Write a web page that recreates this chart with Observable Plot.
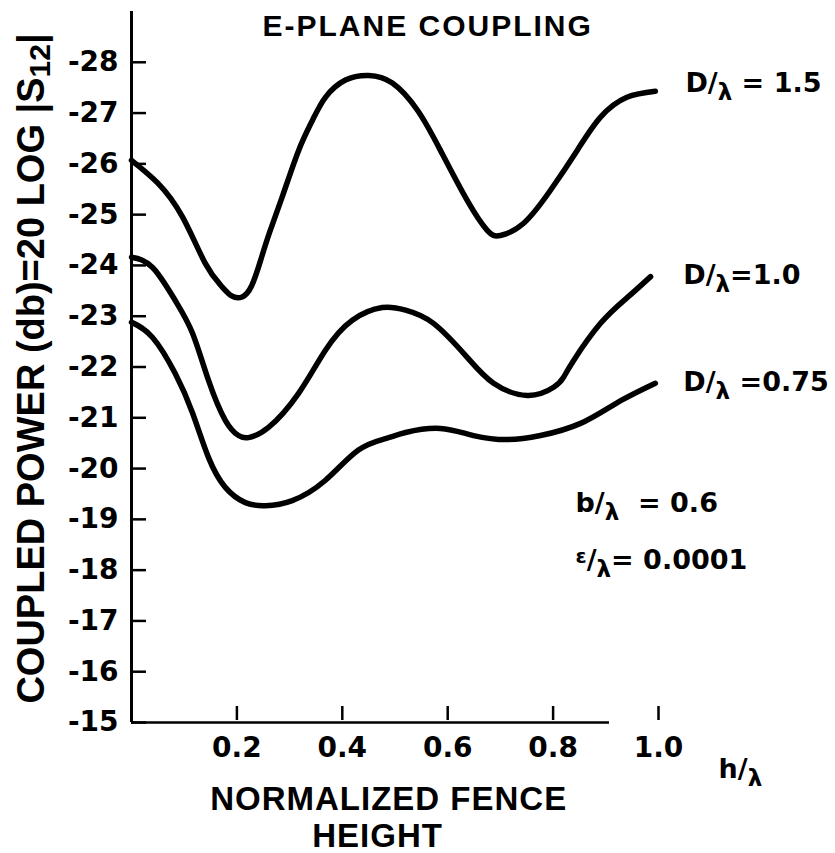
<!DOCTYPE html>
<html><head><meta charset="utf-8">
<script src="https://cdn.jsdelivr.net/npm/d3@7"></script>
<script src="https://cdn.jsdelivr.net/npm/@observablehq/plot@0.6"></script>
<style>body{margin:0;background:#fff} #chart svg{display:block}</style>
</head><body><div id="chart"></div>
<script>
// Tick values
const yTicks = [-28, -27, -26, -25, -24, -23, -22, -21, -20, -19, -18, -17, -16, -15];
const xTicks = [0.2, 0.4, 0.6, 0.8, 1.0];

// D/λ = 1.5
const hD15 = [0, 0.05, 0.097, 0.14, 0.17, 0.19, 0.21, 0.228, 0.245, 0.262, 0.287, 0.317, 0.343, 0.368, 0.406, 0.45, 0.495, 0.543, 0.586, 0.637, 0.675, 0.70, 0.744, 0.795, 0.846, 0.89, 0.94, 0.994];
const vD15 = [-26.07, -25.62, -24.95, -24.04, -23.6, -23.4, -23.38, -23.6, -24.1, -24.65, -25.38, -26.26, -26.85, -27.31, -27.65, -27.74, -27.59, -27.05, -26.27, -25.28, -24.69, -24.59, -24.83, -25.48, -26.27, -26.92, -27.31, -27.43];
// D/λ = 1.0
const hD10 = [0, 0.04, 0.083, 0.116, 0.146, 0.178, 0.203, 0.222, 0.26, 0.317, 0.368, 0.419, 0.476, 0.52, 0.573, 0.637, 0.687, 0.751, 0.801, 0.82, 0.839, 0.89, 0.941, 0.985];
const vD10 = [-24.16, -23.96, -23.31, -22.66, -21.74, -20.95, -20.65, -20.61, -20.81, -21.48, -22.33, -22.92, -23.17, -23.12, -22.86, -22.19, -21.68, -21.44, -21.6, -21.8, -22.13, -22.86, -23.37, -23.78];
// D/λ = 0.75
const hD075 = [0, 0.04, 0.083, 0.116, 0.146, 0.178, 0.216, 0.254, 0.305, 0.368, 0.43, 0.482, 0.52, 0.586, 0.649, 0.713, 0.776, 0.852, 0.922, 0.994];
const vD075 = [-22.88, -22.58, -21.87, -21.09, -20.22, -19.63, -19.33, -19.27, -19.37, -19.77, -20.36, -20.59, -20.71, -20.79, -20.65, -20.57, -20.65, -20.89, -21.3, -21.68];

const seriesNames = ["1.5", "1.0", "0.75"];
const seriesH = [hD15, hD10, hD075];
const seriesV = [vD15, vD10, vD075];

const rows = seriesNames.flatMap((name, k) => seriesH[k].map((h, i) => ({D: name, h, v: seriesV[k][i]})));

const ann = {fontFamily: "DejaVu Sans", fontWeight: "bold", fontSize: 27, textAnchor: "start", fill: "black"};
const ttl = {fontFamily: "Liberation Sans", fontWeight: "bold", fill: "black"};

const chart = Plot.plot({
  width: 835, height: 853,
  marginLeft: 131, marginRight: 177, marginTop: 11, marginBottom: 131,
  x: {domain: [0, 1]},
  y: {domain: [-15, -29]},
  style: {fontFamily: "DejaVu Sans", background: "white", color: "black", overflow: "visible"},
  marks: [
    Plot.ruleX([0], {stroke: "black", strokeWidth: 3}),
    Plot.ruleY([-15], {stroke: "black", strokeWidth: 2.5, insetRight: 49}),
    Plot.tickY(yTicks, {y: d => d, insetRight: 512, stroke: "black", strokeWidth: 2.5}),
    Plot.tickX(xTicks, {x: d => d, insetTop: 695, insetBottom: 2, stroke: "black", strokeWidth: 2.5}),
    Plot.axisY({ticks: yTicks, tickSize: 0, tickPadding: 13, tickFormat: d => String(d), fontSize: 28, fontWeight: "bold", label: null}),
    Plot.axisX({ticks: xTicks, tickSize: 0, tickPadding: 15, tickFormat: d3.format(".1f"), fontSize: 28, fontWeight: "bold", label: null}),
    Plot.line(rows, {x: "h", y: "v", z: "D", curve: "natural", stroke: "black", strokeWidth: 5.5, strokeLinecap: "round", strokeLinejoin: "round"}),
    Plot.text(["D/λ = 1.5"], {x: 1.051, y: -27.58, ...ann}),
    Plot.text(["D/λ=1.0"], {x: 1.047, y: -23.80, ...ann}),
    Plot.text(["D/λ =0.75"], {x: 1.047, y: -21.69, ...ann}),
    Plot.text(["b/λ  = 0.6"], {x: 0.8425, y: -19.31, ...ann}),
    Plot.text(["ε/λ= 0.0001"], {x: 0.8425, y: -18.19, ...ann}),
    Plot.text(["h/λ"], {x: 1.114, y: -14.07, ...ann}),
    Plot.text(["E-PLANE COUPLING"], {x: 0.2486, y: -28.70, fontSize: 30, ...ttl, textAnchor: "start"}),
    Plot.text(["NORMALIZED FENCE"], {x: 0.488, y: -13.48, fontSize: 33, ...ttl}),
    Plot.text(["HEIGHT"], {x: 0.467, y: -12.76, fontSize: 33, ...ttl}),
    Plot.text(["COUPLED POWER (db)=20 LOG |S12|"], {x: -0.19, y: -21.97, rotate: -90, fontSize: 38, ...ttl})
  ]
});
document.getElementById("chart").appendChild(chart);

// Typographic sub/superscripts
d3.select(chart).selectAll("text").each(function () {
  const t = this.textContent;
  if (t === "E-PLANE COUPLING") { this.setAttribute("letter-spacing", "2"); return; }
  if (t === "NORMALIZED FENCE" || t === "HEIGHT") { this.setAttribute("letter-spacing", "1"); return; }
  if (t === "COUPLED POWER (db)=20 LOG |S12|") {
    this.innerHTML = 'COUPLED POWER (db)=20 LOG |S<tspan dy="6" font-size="30">12</tspan><tspan dy="-6">|</tspan>';
    return;
  }
  if (t.indexOf("λ") > 0) {
    const i = t.indexOf("λ");
    const pre = t.slice(0, i), post = t.slice(i + 1);
    let preHTML = pre;
    if (pre.startsWith("ε")) preHTML = '<tspan dy="-6" font-size="20">ε</tspan><tspan dy="6">' + pre.slice(1) + '</tspan>';
    this.innerHTML = preHTML + '<tspan dy="8" font-size="23">λ</tspan><tspan dy="-8">' + (post || "") + '</tspan>';
  }
});
</script>
</body></html>
